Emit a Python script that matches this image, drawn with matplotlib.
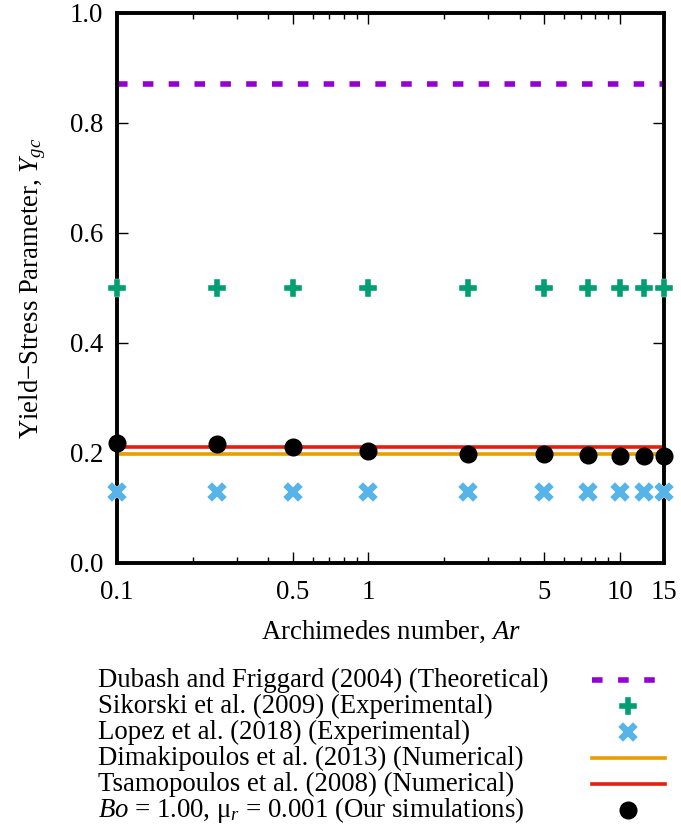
import matplotlib
matplotlib.use('Agg')
import matplotlib.pyplot as plt
from matplotlib.lines import Line2D
import numpy as np

plt.rcParams['font.family'] = ['Liberation Serif', 'DejaVu Serif']
plt.rcParams['mathtext.fontset'] = 'custom'
plt.rcParams['mathtext.rm'] = 'Liberation Serif'
plt.rcParams['mathtext.it'] = 'Liberation Serif:italic'

# data
ar = [0.1, 0.25, 0.5, 1, 2.5, 5, 7.5, 10, 12.5, 15]
y_dubash = 0.87
y_sikorski = 0.50
y_lopez = 0.13
y_dimakopoulos = 0.198
y_tsamopoulos = 0.211
y_ours = [0.219, 0.216, 0.210, 0.204, 0.198, 0.198, 0.197, 0.195, 0.195, 0.195]

labels = ['Dubash and Friggard (2004) (Theoretical)',
          'Sikorski et al. (2009) (Experimental)',
          'Lopez et al. (2018) (Experimental)',
          'Dimakipoulos et al. (2013) (Numerical)',
          'Tsamopoulos et al. (2008) (Numerical)',
          '$Bo$ = 1.00, \u03bc$_r$ = 0.001 (Our simulations)']

c_purple = '#9400D3'
c_green = '#009E73'
c_blue = '#56B4E9'
c_orange = '#E69F00'
c_red = '#E51E10'

fs = 19.3
fig = plt.figure(figsize=(6.81, 8.30), dpi=100)
ax = fig.add_axes([117/681, 1 - 563/830, (664-117)/681, (563-13)/830])

xr = [ar[0], ar[-1]]
ax.plot(xr, [y_dubash]*2, color=c_purple, lw=4, dashes=(1.9, 2.75), solid_capstyle='butt')
ax.plot(ar, [y_sikorski]*len(ar), ls='none', marker='P', ms=13, color=c_green, mec='white', mew=0.3, clip_on=False, zorder=5)
ax.plot(ar, [y_lopez]*len(ar), ls='none', marker='X', ms=15, color=c_blue, mec='white', mew=0.3, clip_on=False, zorder=5)
ax.plot(xr, [y_dimakopoulos]*2, color=c_orange, lw=2.6)
ax.plot(xr, [y_tsamopoulos]*2, color=c_red, lw=2.6)
ax.plot(ar, y_ours, ls='none', marker='o', ms=12, color='black', clip_on=False, zorder=6)

ax.set_xscale('log')
ax.set_xlim(0.1, 15)
ax.set_ylim(0, 1.0)
xt = [0.1, 0.5, 1, 5, 10, 15]
ax.set_xticks(xt)
ax.set_xticklabels(['0.1', '0.5', '1', '5', '10', '15'])
minor = [v * d for d in (0.1, 1) for v in range(2, 10)]
ax.set_xticks([m for m in minor if m not in xt], minor=True)
ax.xaxis.set_minor_formatter(plt.NullFormatter())
ax.set_yticks(np.arange(0, 1.01, 0.2))
ax.set_yticklabels(['%.1f' % v for v in np.arange(0, 1.01, 0.2)])
ax.tick_params(which='both', direction='in', top=True, right=True, labelsize=fs, width=1)
ax.tick_params(which='major', length=8)
ax.tick_params(which='minor', length=4)
ax.tick_params(axis='x', pad=12)
ax.tick_params(axis='y', pad=10)
for s in ax.spines.values():
    s.set_linewidth(2.8)

ax.set_xlabel('Archimedes number, $Ar$', fontsize=fs, labelpad=10)
ax.set_ylabel('Yield\u2212Stress Parameter, $Y_{gc}$', fontsize=fs, labelpad=16)

# legend drawn below the axes: text left, sample right
lax = fig.add_axes([0, 0, 1, 1], facecolor='none')
lax.set_xlim(0, 681)
lax.set_ylim(830, 0)
lax.axis('off')
row_y = [680 + 26 * i for i in range(6)]
for lab, yy in zip(labels, row_y):
    lax.text(98, yy, lab, fontsize=fs, va='center', ha='left')
x0, x1, xm = 592, 665, 628
lax.add_line(Line2D([x0, x1], [row_y[0]]*2, color=c_purple, lw=4, dashes=(1.9, 2.8)))
lax.plot([xm], [row_y[1]], marker='P', ms=13, color=c_green, mec='white', mew=0.3)
lax.plot([xm], [row_y[2]], marker='X', ms=15, color=c_blue, mec='white', mew=0.3)
lax.add_line(Line2D([x0, x1], [row_y[3]]*2, color=c_orange, lw=2.6))
lax.add_line(Line2D([x0, x1], [row_y[4]]*2, color=c_red, lw=2.6))
lax.plot([xm], [row_y[5]], marker='o', ms=12, color='black')

fig.savefig('out.png', dpi=100)
